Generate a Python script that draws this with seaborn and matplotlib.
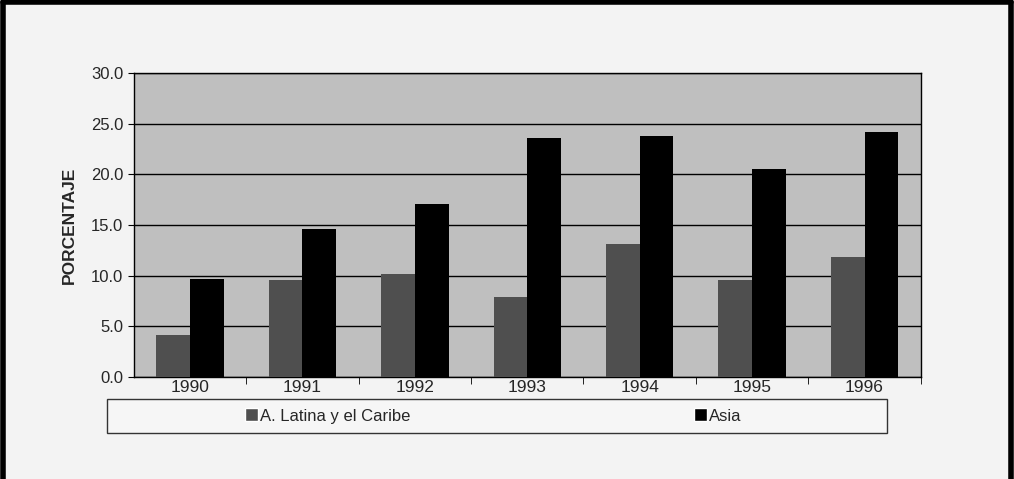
import pandas as pd
import numpy as np
import matplotlib.pyplot as plt
import seaborn as sns
from matplotlib.patches import Rectangle
from matplotlib.lines import Line2D

# valores
years = ["1990", "1991", "1992", "1993", "1994", "1995", "1996"]
latina = [4.1, 9.6, 10.2, 7.9, 13.1, 9.6, 11.8]
asia = [9.7, 14.6, 17.1, 23.6, 23.8, 20.5, 24.2]
series = ["A. Latina y el Caribe", "Asia"]
yticks = [0, 5, 10, 15, 20, 25, 30]

df = pd.DataFrame({
    "year": years * 2,
    "value": latina + asia,
    "serie": [series[0]] * len(years) + [series[1]] * len(years),
})

sns.set_style("white")
plt.rcParams['font.family'] = ['Liberation Sans', 'DejaVu Sans']

fig = plt.figure(figsize=(10.14, 4.79), dpi=100, facecolor="#f3f3f3")
ax = fig.add_axes([0.132, 0.213, 0.776, 0.635])
ax.set_facecolor("#bfbfbf")

sns.barplot(data=df, x="year", y="value", hue="serie", order=years,
            hue_order=series, palette=["#4f4f4f", "#000000"],
            width=0.6, saturation=1, ax=ax, legend=False, zorder=3,
            edgecolor="none", linewidth=0)

ax.set_ylim(0, 30)
ax.set_yticks(yticks)
ax.set_yticklabels([f"{t:.1f}" for t in yticks], fontsize=12)
ax.yaxis.grid(True, color="black", linewidth=1, zorder=1)
ax.set_axisbelow(True)
ax.set_xlim(-0.5, len(years) - 0.5)
ax.tick_params(axis="y", length=4, direction="out", left=True, color="black")
ax.tick_params(axis="x", which="major", length=0, labelsize=12.5, pad=2)
ax.set_xticks(np.arange(len(years)) + 0.5, minor=True)
ax.tick_params(axis="x", which="minor", length=5, direction="out", bottom=True, color="black")
ax.set_xlabel("")
ax.set_ylabel("PORCENTAJE", fontsize=12.5, fontweight="bold", labelpad=10)
for s in ax.spines.values():
    s.set_color("black")
    s.set_linewidth(1)

# caja de leyenda
fig.patches.append(Rectangle((107 / 1014, 1 - 433 / 479), 780 / 1014, 34 / 479,
                             transform=fig.transFigure, facecolor="#f6f6f6",
                             edgecolor="#333333", linewidth=1))
handles = [Rectangle((0, 0), 1, 1, facecolor=c) for c in ["#4f4f4f", "#000000"]]
fig.legend(handles, series, loc="center", bbox_to_anchor=(493 / 1014, 1 - 416 / 479),
           ncol=2, frameon=False, fontsize=12, columnspacing=17,
           handlelength=0.8, handleheight=0.8, handletextpad=0.1)

# marco exterior (izquierda, arriba, derecha)
for xs, ys in [([0.003, 0.003], [0, 0.995]), ([0.003, 0.997], [0.995, 0.995]),
               ([0.997, 0.997], [0, 0.995])]:
    fig.add_artist(Line2D(xs, ys, transform=fig.transFigure, color="black", linewidth=4))

fig.savefig("out.png", dpi=100, facecolor=fig.get_facecolor())
